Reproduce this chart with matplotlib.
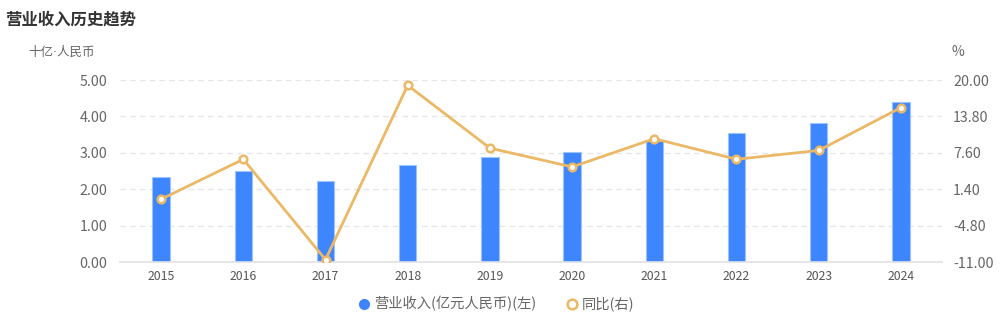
import matplotlib
matplotlib.use('Agg')
import matplotlib.pyplot as plt
from matplotlib.lines import Line2D
import numpy as np

plt.rcParams['font.family'] = ['Noto Sans CJK SC', 'DejaVu Sans']

years = ['2015', '2016', '2017', '2018', '2019', '2020', '2021', '2022', '2023', '2024']
revenue = [2.34, 2.50, 2.23, 2.66, 2.88, 3.01, 3.32, 3.54, 3.81, 4.39]
yoy = [-0.3, 6.5, -10.6, 19.1, 8.4, 5.2, 10.0, 6.5, 8.0, 15.3]
left_ticks = [0, 1, 2, 3, 4, 5]
right_ticks = [-11.0, -4.8, 1.4, 7.6, 13.8, 20.0]

bar_color = '#3d86ff'
line_color = '#ebb866'
text_color = '#666666'

fig = plt.figure(figsize=(10.03, 3.18), dpi=100)
ax = fig.add_axes([120 / 1003, 56 / 318, 822 / 1003, 182 / 318])
ax2 = ax.twinx()

x = np.arange(len(years))
ax.bar(x, revenue, width=0.21, color=bar_color, edgecolor='#9cc2ff', linewidth=0.8, zorder=2)
ax.set_xlim(-0.5, len(years) - 0.5)
ax.set_ylim(0, 5)
ax.set_yticks(left_ticks)
ax.set_yticklabels([f'{v:.2f}' for v in left_ticks])
ax.set_xticks(x)
ax.set_xticklabels(years)

ax2.plot(x, yoy, color=line_color, linewidth=2, marker='o', markersize=5.5,
         markerfacecolor='white', markeredgecolor=line_color, markeredgewidth=1.8, zorder=3)
ax2.set_ylim(-11, 20)
ax2.set_yticks(right_ticks)
ax2.set_yticklabels([f'{v:.2f}' for v in right_ticks])

for a in (ax, ax2):
    for s in a.spines.values():
        s.set_visible(False)
ax.spines['bottom'].set_visible(True)
ax.spines['bottom'].set_color('#e0e0e6')
ax.spines['bottom'].set_linewidth(1.2)

ax.grid(axis='y', color='#e6e6e6', linestyle=(0, (4, 3)), linewidth=1, zorder=0)
ax.set_axisbelow(True)
ax.tick_params(axis='y', length=0, pad=9, labelsize=10.3, labelcolor=text_color)
ax.tick_params(axis='x', length=0, pad=6, labelsize=8.8, labelcolor='#555555')
ax2.tick_params(axis='y', length=0, pad=8, labelsize=10.3, labelcolor=text_color)

fig.text(5 / 1003, 1 - 20 / 318, '营业收入历史趋势', fontsize=11.8, fontweight='bold',
         color='#333333', va='center', ha='left')
fig.text(95 / 1003, 1 - 52 / 318, '十亿·人民币', fontsize=9, color=text_color, va='center', ha='right',
         family=['DejaVu Sans', 'Noto Sans CJK SC'])
fig.text(952 / 1003, 1 - 52 / 318, '%', fontsize=10, color=text_color, va='center', ha='left')

handles = [
    Line2D([], [], linestyle='none', marker='o', markersize=7, color=bar_color),
    Line2D([], [], linestyle='none', marker='o', markersize=7, markerfacecolor='white',
           markeredgecolor=line_color, markeredgewidth=1.8),
]
fig.legend(handles, ['营业收入(亿元人民币)(左)', '同比(右)'], loc='center',
           bbox_to_anchor=(495 / 1003, 1 - 304 / 318), ncol=2, frameon=False,
           fontsize=10.3, labelcolor=text_color, handletextpad=0.1, columnspacing=1.9,
           handlelength=1.2)

fig.savefig('out.png', dpi=100)
